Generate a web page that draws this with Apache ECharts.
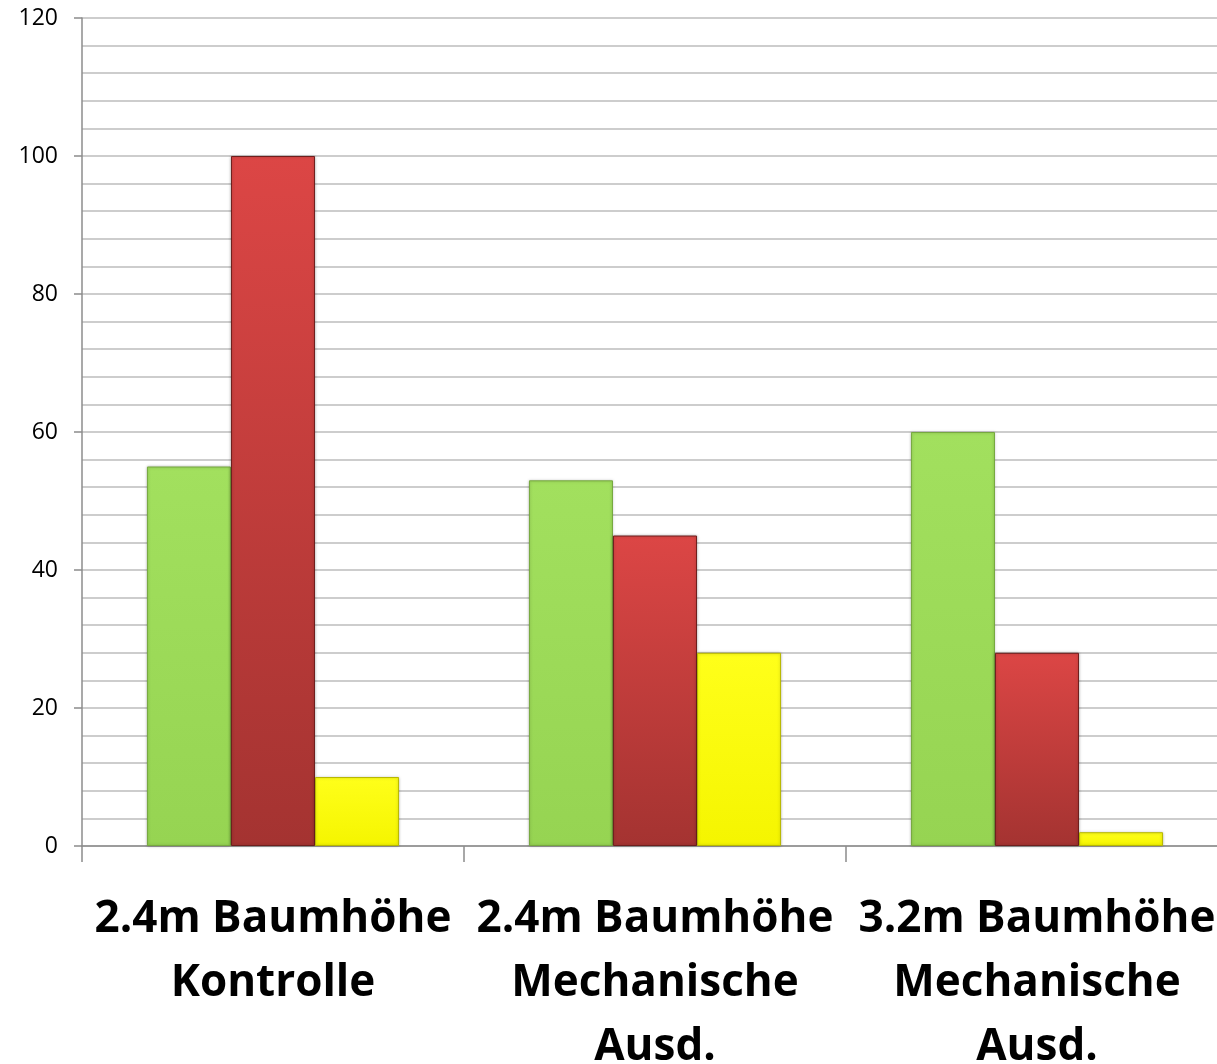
<!DOCTYPE html>
<html>
<head>
<meta charset="utf-8">
<script src="https://cdn.jsdelivr.net/npm/echarts@6/dist/echarts.min.js"></script>
<style>html,body{margin:0;padding:0;background:#fff}#c{width:1217px;height:1064px}</style>
</head>
<body>
<div id="c"></div>
<script>
const categories = ['2.4m Baumhöhe\nKontrolle', '2.4m Baumhöhe\nMechanische\nAusd.', '3.2m Baumhöhe\nMechanische\nAusd.'];
const greenValues = [55, 53, 60];
const redValues = [100, 45, 28];
const yellowValues = [10, 28, 2];

const chart = echarts.init(document.getElementById('c'), null, {renderer: 'canvas'});
function grad(top, bottom) {
  return new echarts.graphic.LinearGradient(0, 0, 0, 1, [{offset: 0, color: top}, {offset: 1, color: bottom}]);
}
const common = {type: 'bar', barGap: '0%', barCategoryGap: '34%', animation: false};
chart.setOption({
  animation: false,
  grid: {left: 82, right: -11, top: 18, bottom: 218, containLabel: false, outerBoundsMode: 'none'},
  xAxis: {
    type: 'category',
    data: categories,
    axisLine: {lineStyle: {color: '#8c8c8c', width: 1.5}},
    axisTick: {show: true, length: 16, lineStyle: {color: '#8c8c8c', width: 1.5}},
    axisLabel: {
      interval: 0, margin: 41, color: '#000',
      fontFamily: 'Open Sans', fontWeight: 'bold', fontSize: 44, lineHeight: 64
    }
  },
  yAxis: {
    type: 'value', min: 0, max: 120, interval: 20,
    axisLine: {show: true, lineStyle: {color: '#8c8c8c', width: 1.5}},
    axisTick: {show: true, length: 8, lineStyle: {color: '#8c8c8c', width: 1.5}},
    axisLabel: {margin: 24, color: '#000', fontFamily: 'Open Sans', fontSize: 23},
    splitLine: {show: true, lineStyle: {color: '#bdbdbd', width: 1.5}},
    minorTick: {show: false, splitNumber: 5},
    minorSplitLine: {show: true, lineStyle: {color: '#bdbdbd', width: 1.5}}
  },
  series: [
    Object.assign({}, common, {
      name: 'green', data: greenValues,
      itemStyle: {color: grad('#a2e05e', '#96d452'), borderColor: '#76a83f', borderWidth: 1,
        shadowColor: 'rgba(0,0,0,0.25)', shadowBlur: 3}
    }),
    Object.assign({}, common, {
      name: 'red', data: redValues,
      itemStyle: {color: grad('#dc4645', '#a43331'), borderColor: '#6e1f1d', borderWidth: 1,
        shadowColor: 'rgba(0,0,0,0.25)', shadowBlur: 3}
    }),
    Object.assign({}, common, {
      name: 'yellow', data: yellowValues,
      itemStyle: {color: grad('#ffff1a', '#f5f500'), borderColor: '#b8b800', borderWidth: 1,
        shadowColor: 'rgba(0,0,0,0.25)', shadowBlur: 3}
    })
  ]
});
</script>
</body>
</html>
